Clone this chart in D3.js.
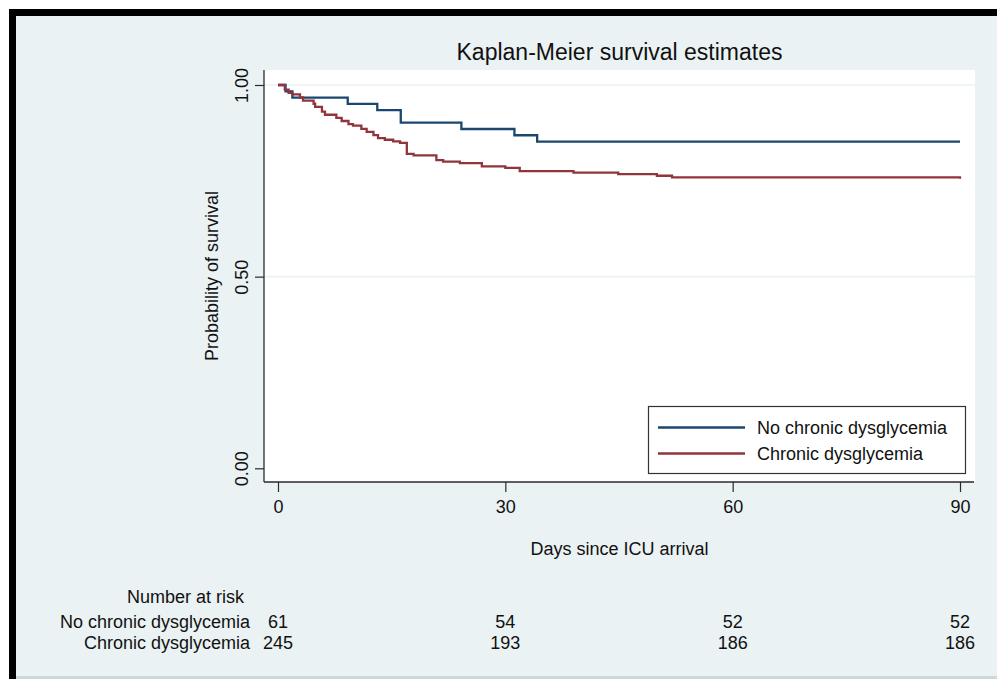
<!DOCTYPE html>
<html>
<head>
<meta charset="utf-8">
<script src="https://cdn.jsdelivr.net/npm/d3@7"></script>
<style>
  html, body { margin: 0; padding: 0; background: #ffffff; }
  svg { display: block; }
  text { font-family: "Liberation Sans", Arial, Helvetica, sans-serif; fill: #111; }
</style>
</head>
<body>
<svg id="chart" width="997" height="679"></svg>
<script>
// Kaplan-Meier survival by group, with number-at-risk table
const groups = ["No chronic dysglycemia", "Chronic dysglycemia"];
const groupColors = ["#1a476f", "#90353b"];
const groupN = [61, 245];

// event times (days) and number of deaths at each time
const noChronicTimes  = [1.0, 1.9, 9.2, 13.1, 16.2, 24.2, 31.2, 34.2];
const noChronicDeaths = [1, 1, 1, 1, 2, 1, 1, 1];
const chronicTimes  = [0.9, 1.4, 1.9, 2.9, 3.3, 4.7, 4.9, 5.8, 6.2, 7.7, 8.4, 9.3, 9.9,
                       11.0, 11.7, 12.6, 13.2, 14.1, 15.2, 16.1, 17.0, 17.9, 20.9, 21.8,
                       24.0, 26.9, 30.0, 31.9, 39.0, 44.9, 50.0, 52.0, 90.0];
const chronicDeaths = [3, 2, 1, 2, 2, 2, 2, 3, 2, 2, 2, 2, 1,
                       2, 2, 2, 2, 1, 1, 1, 7, 1, 3, 1,
                       1, 2, 1, 2, 1, 1, 1, 1, 1];

const xTicks = [0, 30, 60, 90];
const yTicks = [0, 0.5, 1];
const riskNoChronic = [61, 54, 52, 52];
const riskChronic = [245, 193, 186, 186];

const title = "Kaplan-Meier survival estimates";
const xTitle = "Days since ICU arrival";
const yTitle = "Probability of survival";

const svg = d3.select("#chart");
const W = 997, H = 679;
const fs = "18px";

// outer frame
svg.append("rect").attr("x", 0).attr("y", 0).attr("width", W).attr("height", H).attr("fill", "#ffffff");
svg.append("rect").attr("x", 9).attr("y", 9).attr("width", W - 9).attr("height", H - 9).attr("fill", "#000000");
svg.append("rect").attr("x", 16).attr("y", 16).attr("width", W - 16).attr("height", H - 16).attr("fill", "#cfd7d9");
svg.append("rect").attr("x", 16).attr("y", 16).attr("width", W - 16).attr("height", 660).attr("fill", "rgb(234,242,243)");

// plot region
const plot = { left: 264, right: 975, top: 70, bottom: 482 };
svg.append("rect")
  .attr("x", plot.left).attr("y", plot.top)
  .attr("width", plot.right - plot.left).attr("height", plot.bottom - plot.top)
  .attr("fill", "#ffffff");

const x = d3.scaleLinear().domain([0, 90]).range([278, 960]);
const y = d3.scaleLinear().domain([0, 1]).range([468.3, 85]);

// grid lines
svg.append("g").selectAll("line")
  .data(yTicks.filter(d => d > 0))
  .join("line")
  .attr("x1", plot.left).attr("x2", plot.right)
  .attr("y1", d => y(d)).attr("y2", d => y(d))
  .attr("stroke", "rgb(234,242,243)").attr("stroke-width", 1.6);

// survival curves
function kmSteps(n, times, deaths) {
  const pts = [[0, 1]];
  let alive = n;
  times.forEach((t, i) => {
    alive -= deaths[i];
    pts.push([t, alive / n]);
  });
  const last = pts[pts.length - 1];
  if (last[0] < 90) pts.push([90, last[1]]);
  return pts;
}
const curves = [
  kmSteps(groupN[0], noChronicTimes, noChronicDeaths),
  kmSteps(groupN[1], chronicTimes, chronicDeaths)
];
const line = d3.line().x(d => x(d[0])).y(d => y(d[1])).curve(d3.curveStepAfter);
svg.append("g").selectAll("path")
  .data(curves)
  .join("path")
  .attr("d", line)
  .attr("fill", "none")
  .attr("stroke", (d, i) => groupColors[i])
  .attr("stroke-width", 2.3)
  .attr("stroke-linejoin", "miter");

// axes
const axisColor = "#2a2a2a";
const yAxis = svg.append("g")
  .attr("transform", `translate(${plot.left},0)`)
  .call(d3.axisLeft(y).tickValues(yTicks).tickFormat(d3.format(".2f")).tickSize(9));
yAxis.select(".domain").remove();
yAxis.selectAll(".tick line").attr("stroke", axisColor).attr("stroke-width", 1.2);
yAxis.selectAll(".tick text")
  .attr("transform", "rotate(-90)")
  .attr("x", 0).attr("y", -16).attr("dy", null)
  .attr("text-anchor", "middle")
  .style("font-size", fs).attr("fill", "#111");

const xAxis = svg.append("g")
  .attr("transform", `translate(0,${plot.bottom})`)
  .call(d3.axisBottom(x).tickValues(xTicks).tickFormat(d3.format("d")).tickSize(10).tickPadding(8));
xAxis.select(".domain").remove();
xAxis.selectAll(".tick line").attr("stroke", axisColor).attr("stroke-width", 1.2);
xAxis.selectAll(".tick text").style("font-size", fs).attr("fill", "#111");

svg.append("line")
  .attr("x1", plot.left).attr("x2", plot.left)
  .attr("y1", plot.top).attr("y2", plot.bottom)
  .attr("stroke", axisColor).attr("stroke-width", 1.3);
svg.append("line")
  .attr("x1", plot.left).attr("x2", plot.right - 1)
  .attr("y1", plot.bottom).attr("y2", plot.bottom)
  .attr("stroke", axisColor).attr("stroke-width", 1.3);

// titles
svg.append("text")
  .attr("x", (plot.left + plot.right) / 2).attr("y", 60)
  .attr("text-anchor", "middle")
  .style("font-size", "23px").attr("fill", "#1f2a33")
  .text(title);
svg.append("text")
  .attr("x", (plot.left + plot.right) / 2).attr("y", 555)
  .attr("text-anchor", "middle")
  .style("font-size", fs)
  .text(xTitle);
svg.append("text")
  .attr("transform", `translate(218,${(plot.top + plot.bottom) / 2}) rotate(-90)`)
  .attr("text-anchor", "middle")
  .style("font-size", fs)
  .text(yTitle);

// legend
const legend = svg.append("g");
legend.append("rect")
  .attr("x", 648.5).attr("y", 406.5).attr("width", 317).attr("height", 67)
  .attr("fill", "#ffffff").attr("stroke", "#333").attr("stroke-width", 1.2);
groups.forEach((g, i) => {
  const ly = 427.5 + i * 26;
  legend.append("line")
    .attr("x1", 658).attr("x2", 745).attr("y1", ly).attr("y2", ly)
    .attr("stroke", groupColors[i]).attr("stroke-width", 2.3);
  legend.append("text")
    .attr("x", 757).attr("y", ly).attr("dy", "0.35em")
    .style("font-size", fs)
    .text(g);
});

// number at risk table
const risk = svg.append("g").style("font-size", fs);
risk.append("text").attr("x", 244).attr("y", 597).attr("dy", "0.35em")
  .attr("text-anchor", "end").text("Number at risk");
[riskNoChronic, riskChronic].forEach((row, i) => {
  const ry = 622 + i * 21;
  risk.append("text").attr("x", 250).attr("y", ry).attr("dy", "0.35em")
    .attr("text-anchor", "end").text(groups[i]);
  risk.selectAll(null)
    .data(row)
    .join("text")
    .attr("x", (d, j) => x(xTicks[j]))
    .attr("y", ry).attr("dy", "0.35em")
    .attr("text-anchor", "middle")
    .text(d => d);
});
</script>
</body>
</html>
